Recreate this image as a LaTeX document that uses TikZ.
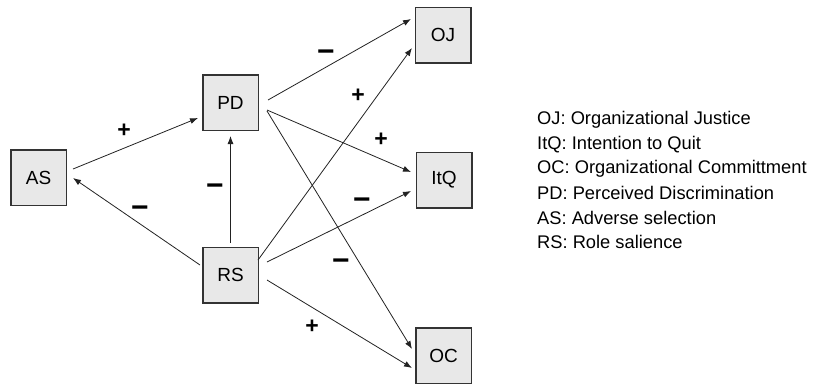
\documentclass[tikz,border=0pt]{standalone}
\usepackage{fontspec}
\setmainfont{Liberation Sans}
\usetikzlibrary{calc,arrows.meta}
\definecolor{boxfill}{HTML}{E8E8E8}
\definecolor{boxline}{HTML}{333333}
\definecolor{arrline}{HTML}{222222}
\begin{document}
\begin{tikzpicture}[x=1pt,y=-1pt,
  varbox/.style={draw=boxline,fill=boxfill,line width=1.5pt,minimum width=55.5pt,minimum height=55.5pt,inner sep=0pt,font=\fontsize{19}{22}\selectfont},
  arr/.style={draw=arrline,line width=0.8pt,-{Latex[length=8pt,width=6pt]}},
  sgn/.style={font=\fontsize{23}{24}\selectfont\bfseries,inner sep=0pt},
  msgn/.style={font=\fontsize{30}{32}\selectfont\bfseries,inner sep=0pt},
  legend/.style={anchor=base west,font=\fontsize{18.3}{22}\selectfont,inner sep=0pt}]
\useasboundingbox (0,0) rectangle (813,384);
\node[varbox] (as) at (38.5,177.5) {AS};
\node[varbox] (pd) at (230.5,102.5) {PD};
\node[varbox] (rs) at (230.5,275) {RS};
\node[varbox] (oj) at (443,35) {OJ};
\node[varbox] (itq) at (444,180) {ItQ};
\node[varbox] (oc) at (443.5,355.5) {OC};
% connectors
\draw[arr] ($(as)+(34.5,-8.5)$) -- ($(pd)+(-32.5,15.5)$);
\draw[arr] ($(rs)+(-30.5,-10)$) -- ($(as)+(34.5,0.5)$);
\draw[arr] ($(rs)+(0,-32)$) -- ($(pd)+(0,33.5)$);
\draw[arr] ($(pd)+(37.5,-2.5)$) -- ($(oj)+(-32,-16)$);
\draw[arr] ($(rs)+(27.5,-15)$) -- ($(oj)+(-31,13)$);
\draw[arr] ($(pd)+(36.5,7.5)$) -- ($(itq)+(-33,-8)$);
\draw[arr] ($(pd)+(36.5,8.5)$) -- ($(oc)+(-31.5,-6.5)$);
\draw[arr] ($(rs)+(36.5,-13)$) -- ($(itq)+(-33,11)$);
\draw[arr] ($(rs)+(36.5,5)$) -- ($(oc)+(-31.5,12.5)$);
% signs
\node[sgn] (s1) at (124,131) {+};
\node[msgn] (s2) at (140,212) {−};
\node[msgn] (s3) at (215,190) {−};
\node[msgn] (s4) at (326,56) {−};
\node[sgn] (s5) at (358,96) {+};
\node[sgn] (s6) at (381,140) {+};
\node[msgn] (s7) at (362,204) {−};
\node[msgn] (s8) at (341,265) {−};
\node[sgn] (s9) at (312,327) {+};
% legend
\node[legend] (l1) at (537,124) {OJ: Organizational Justice};
\node[legend] (l2) at (537,149) {ItQ: Intention to Quit};
\node[legend] (l3) at (537,173) {OC: Organizational Committment};
\node[legend] (l4) at (537,199) {PD: Perceived Discrimination};
\node[legend] (l5) at (537,224) {AS: Adverse selection};
\node[legend] (l6) at (537,248) {RS: Role salience};
\end{tikzpicture}
\end{document}
